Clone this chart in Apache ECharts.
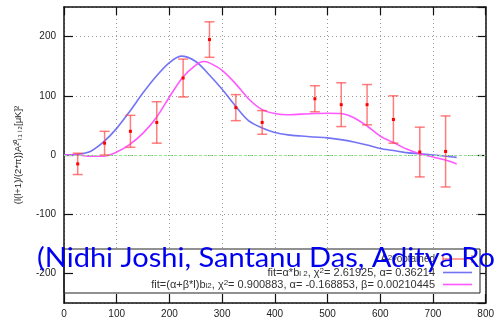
<!DOCTYPE html>
<html>
<head>
<meta charset="utf-8">
<script src="https://cdn.jsdelivr.net/npm/echarts@6/dist/echarts.min.js"></script>
<style>
  html, body { margin: 0; padding: 0; background: #fff; }
  #chart { width: 497px; height: 323px; }
</style>
</head>
<body>
<div id="chart"></div>
<script>
// Bandpowers: multipole bin centres, measured values and 1-sigma errors
const ellBins  = [26, 77, 126, 176, 226, 276, 326, 376, 476, 526, 575, 625, 675, 724];
const clValues = [-15, 20, 40, 55, 130, 195, 80, 55, 95, 85, 85, 60, 5, 6];
const clErrors = [18, 20, 27, 35, 32, 30, 22, 20, 22, 37, 34, 40, 42, 60];

// Fit 1: alpha * b_l2
const fit1Ell = [0, 25, 50, 75, 100, 125, 150, 175, 200, 222, 250, 275, 300, 325, 350, 375, 400, 425, 450, 475, 500, 525, 550, 575, 600, 625, 650, 675, 700, 725, 745];
const fit1Cl  = [0, 1, 6, 22, 45, 74, 105, 133, 156, 167, 158, 136, 111, 83, 58, 46, 38, 34, 32, 30.5, 29, 26, 22, 17, 11, 7.5, 4, 2, 0, -2, -4];

// Fit 2: (alpha + beta*l) * b_l2
const fit2Ell = [0, 25, 50, 75, 100, 125, 150, 175, 200, 225, 250, 265, 275, 300, 325, 350, 375, 400, 425, 450, 475, 500, 525, 550, 575, 600, 625, 650, 675, 700, 725, 745];
const fit2Cl  = [0, 0, -2, -2, 5, 18, 37, 63, 98, 131, 152, 158, 156, 143, 121, 95, 77, 70, 68, 69, 70, 70.5, 70, 63, 49, 32, 21, 10, 2, -3.5, -9, -15];

// Axis ranges
const xRange = [0, 800];
const xStep = 100;
const yRange = [-250, 250];

const legendLabels = {
  data: 'A{s|20}{o|obtained}',
  fit1: 'fit=α*b{d|l 2}, χ{s|2}= 2.61925, α= 0.36214',
  fit2: 'fit=(α+β*l)b{d|l2}, χ{s|2}= 0.900883, α= -0.168853, β= 0.00210445'
};
const authors = '(Nidhi Joshi, Santanu Das, Aditya Ro';
const yTitle = '(l(l+1)/(2*π))A²⁰ₗ₁ ₗ₂[μK]²';

const chart = echarts.init(document.getElementById('chart'), null, { renderer: 'canvas' });

const fontFamily = 'Liberation Sans';
const ink = '#111';
const errColor = 'rgba(255, 70, 70, 0.7)';
const blue = 'rgba(90, 90, 245, 0.85)';
const magenta = 'rgba(255, 70, 255, 0.9)';

const dotted = { color: '#9a9a9a', width: 1, type: [1, 3] };

const pts = ellBins.map((l, i) => [l, clValues[i], clErrors[i]]);

const legendRich = {
  s: { fontSize: 8, verticalAlign: 'top', fill: '#333', fontFamily },
  d: { fontSize: 8, verticalAlign: 'bottom', fill: '#333', fontFamily },
  o: { fontSize: 10, verticalAlign: 'bottom', fill: '#333', fontFamily }
};
const legendFont = '11px "Liberation Sans"';

const option = {
  animation: false,
  backgroundColor: '#fff',
  grid: { left: 64, right: 10, top: 7, bottom: 20, show: false },
  xAxis: [
    {
      type: 'value', position: 'bottom', min: xRange[0], max: xRange[1], interval: xStep, z: 3,
      axisLine: { onZero: false, lineStyle: { color: ink, width: 1.5 } },
      axisTick: { inside: true, length: 9, lineStyle: { color: ink, width: 1.2 } },
      axisLabel: { margin: 6, fontSize: 10, color: '#222', fontFamily },
      splitLine: { show: false }
    },
    {
      type: 'value', position: 'top', min: xRange[0], max: xRange[1], interval: xStep, z: 0,
      axisLine: { onZero: false, lineStyle: { color: ink, width: 1.5 } },
      axisTick: { inside: true, length: 8, lineStyle: { color: ink, width: 1.2 } },
      axisLabel: { show: false },
      splitLine: { show: true, lineStyle: dotted }
    }
  ],
  yAxis: [
    {
      type: 'value', position: 'left', min: yRange[0], max: yRange[1], splitNumber: 5, z: 3,
      axisLine: { onZero: false, show: true, lineStyle: { color: ink, width: 1.5 } },
      axisTick: { show: true, inside: true, length: 9, lineStyle: { color: ink, width: 1.2 } },
      axisLabel: { margin: 8, fontSize: 10, color: '#222', fontFamily, showMinLabel: false, showMaxLabel: false },
      splitLine: { show: false }
    },
    {
      type: 'value', position: 'right', min: yRange[0], max: yRange[1], splitNumber: 5, z: 0,
      axisLine: { onZero: false, show: true, lineStyle: { color: ink, width: 1.5 } },
      axisTick: { show: true, inside: true, length: 8, lineStyle: { color: ink, width: 1.2 } },
      axisLabel: { show: false },
      splitLine: { show: true, lineStyle: dotted }
    }
  ],
  series: [
    {
      name: 'zero', type: 'line', data: [], z: 1,
      markLine: {
        silent: true, symbol: 'none', label: { show: false },
        lineStyle: { color: '#8ee68e', width: 1, type: [3, 2] },
        data: [{ yAxis: 0 }]
      }
    },
    {
      name: 'fit1', type: 'line', smooth: 0.3, showSymbol: false, z: 4,
      data: fit1Ell.map((l, i) => [l, fit1Cl[i]]),
      lineStyle: { color: blue, width: 1.6 }
    },
    {
      name: 'fit2', type: 'line', smooth: 0.3, showSymbol: false, z: 4,
      data: fit2Ell.map((l, i) => [l, fit2Cl[i]]),
      lineStyle: { color: magenta, width: 1.6 }
    },
    {
      name: 'data', type: 'custom', z: 5,
      data: pts,
      renderItem: (params, api) => {
        const x = api.value(0), y = api.value(1), e = api.value(2);
        const top = api.coord([x, y + e]);
        const bot = api.coord([x, y - e]);
        const c = api.coord([x, y]);
        const cap = 5;
        const st = { stroke: errColor, lineWidth: 1.5 };
        return {
          type: 'group',
          children: [
            { type: 'line', shape: { x1: top[0], y1: top[1], x2: bot[0], y2: bot[1] }, style: st },
            { type: 'line', shape: { x1: top[0] - cap, y1: top[1], x2: top[0] + cap, y2: top[1] }, style: st },
            { type: 'line', shape: { x1: bot[0] - cap, y1: bot[1], x2: bot[0] + cap, y2: bot[1] }, style: st },
            { type: 'rect', shape: { x: c[0] - 1.5, y: c[1] - 1.5, width: 3, height: 3 }, style: { fill: '#f00' } }
          ]
        };
      }
    }
  ],
  graphic: [
    // key box
    { type: 'rect', z: 1, shape: { x: 64, y: 249, width: 416, height: 44 },
      style: { fill: '#fff', stroke: '#222', lineWidth: 1 } },
    { type: 'text', z: 6, x: 435, y: 259,
      style: { text: legendLabels.data, rich: legendRich, font: legendFont, fill: '#333', textAlign: 'right', textVerticalAlign: 'middle' } },
    { type: 'text', z: 6, x: 435, y: 272.5,
      style: { text: legendLabels.fit1, rich: legendRich, font: legendFont, fill: '#333', textAlign: 'right', textVerticalAlign: 'middle' } },
    { type: 'text', z: 6, x: 435, y: 284.5,
      style: { text: legendLabels.fit2, rich: legendRich, font: legendFont, fill: '#333', textAlign: 'right', textVerticalAlign: 'middle' } },
    { type: 'line', z: 6, shape: { x1: 443, y1: 259, x2: 472, y2: 259 }, style: { stroke: errColor, lineWidth: 1.5 } },
    { type: 'line', z: 6, shape: { x1: 443, y1: 255, x2: 443, y2: 263 }, style: { stroke: errColor, lineWidth: 1.5 } },
    { type: 'line', z: 6, shape: { x1: 472, y1: 255, x2: 472, y2: 263 }, style: { stroke: errColor, lineWidth: 1.5 } },
    { type: 'line', z: 6, shape: { x1: 443, y1: 272.5, x2: 472, y2: 272.5 }, style: { stroke: blue, lineWidth: 1.6 } },
    { type: 'line', z: 6, shape: { x1: 443, y1: 284.5, x2: 472, y2: 284.5 }, style: { stroke: magenta, lineWidth: 1.6 } },
    // y-axis title
    { type: 'text', z: 6, x: 18, y: 155, rotation: Math.PI / 2,
      style: { text: yTitle, font: '9.5px "Liberation Sans"', fill: '#222', textAlign: 'center', textVerticalAlign: 'middle' } },
    // author credit
    { type: 'text', z: 20, x: 37, y: 258, scaleX: 1.075,
      style: { text: authors, font: '27px Lato', fill: '#0000f0', textAlign: 'left', textVerticalAlign: 'middle' } }
  ]
};

chart.setOption(option);
</script>
</body>
</html>
